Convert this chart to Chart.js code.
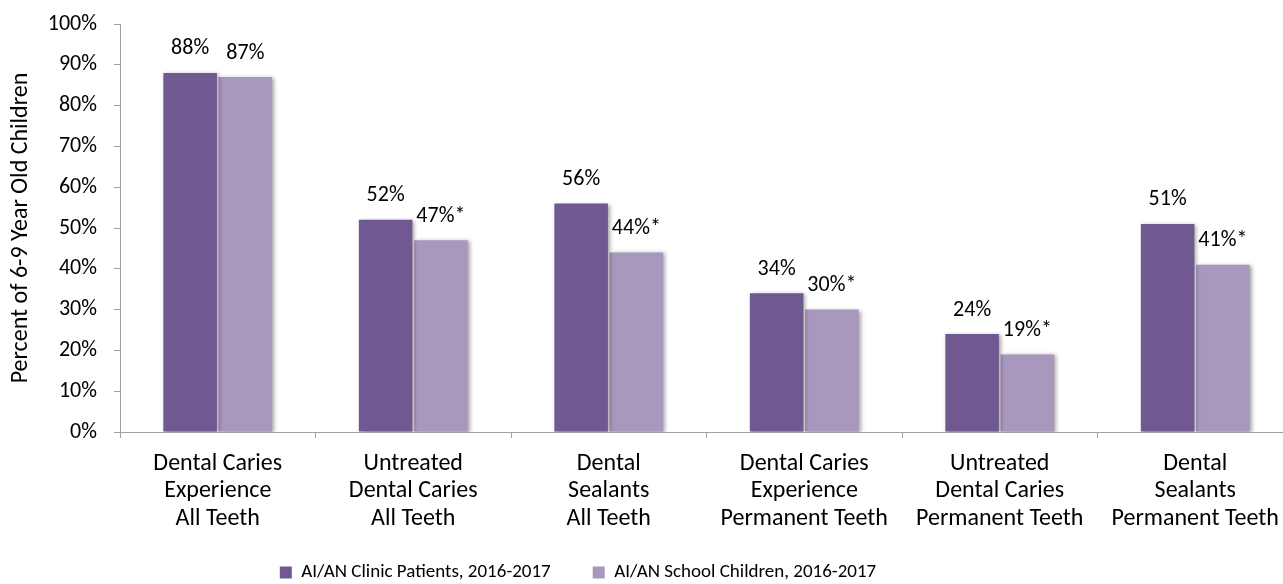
<!DOCTYPE html>
<html>
<head>
<meta charset="utf-8">
<script src="https://cdn.jsdelivr.net/npm/chart.js@4.4.1/dist/chart.umd.min.js"></script>
<style>
    html, body { margin: 0; padding: 0; background: #fff; overflow: hidden; }
    #wrap { width: 1293px; height: 584px; }
</style>
</head>
<body>
<div id="wrap"><canvas id="myChart" width="1293" height="584"></canvas></div>
<script>
const categories = [
    ["Dental Caries", "Experience", "All Teeth"],
    ["Untreated", "Dental Caries", "All Teeth"],
    ["Dental", "Sealants", "All Teeth"],
    ["Dental Caries", "Experience", "Permanent Teeth"],
    ["Untreated", "Dental Caries", "Permanent Teeth"],
    ["Dental", "Sealants", "Permanent Teeth"]
];
const clinicValues = [88, 52, 56, 34, 24, 51];
const schoolValues = [87, 47, 44, 30, 19, 41];
// asterisk marks a significant difference from clinic patients
const schoolSignificant = [false, true, true, true, true, true];
const seriesNames = ["AI/AN Clinic Patients, 2016-2017", "AI/AN School Children, 2016-2017"];
const yTicks = [0, 10, 20, 30, 40, 50, 60, 70, 80, 90, 100];

const FONT = "Carlito, Lato, sans-serif";
const gray = "#a0a0a0";

// soft drop shadow under the bars
const barShadow = {
    id: "barShadow",
    beforeDatasetsDraw(chart) {
        const ctx = chart.ctx;
        ctx.save();
        ctx.shadowColor = "rgba(0,0,0,0.35)";
        ctx.shadowBlur = 4;
        ctx.shadowOffsetX = 2;
        ctx.shadowOffsetY = 1;
    },
    afterDatasetsDraw(chart) {
        chart.ctx.restore();
    }
};

// percent labels above each bar
const valueLabels = {
    id: "valueLabels",
    afterDraw(chart) {
        const ctx = chart.ctx;
        ctx.save();
        ctx.font = "22px " + FONT;
        ctx.fillStyle = "#000";
        ctx.textAlign = "center";
        ctx.textBaseline = "middle";
        chart.data.datasets.forEach((ds, di) => {
            chart.getDatasetMeta(di).data.forEach((bar, i) => {
                let txt = ds.data[i] + "%";
                if (di === 1 && schoolSignificant[i]) txt += "*";
                ctx.fillText(txt, bar.x, bar.y - 24);
            });
        });
        ctx.restore();
    }
};

// legend sits a bit left of centre; x labels need room below the axis box
const layoutTweaks = {
    id: "layoutTweaks",
    afterLayout(chart) {
        chart.legend.left = 0;
        chart.legend.right = 1156;
        chart.scales.x.bottom = chart.scales.x.top + 110;
    }
};

const ctx = document.getElementById("myChart").getContext("2d");
const myChart = new Chart(ctx, {
    type: "bar",
    data: {
        labels: categories,
        datasets: [{
            label: seriesNames[0],
            data: clinicValues,
            backgroundColor: "#705890",
            barPercentage: 0.97,
            categoryPercentage: 0.565
        }, {
            label: seriesNames[1],
            data: schoolValues,
            backgroundColor: "#a898be",
            barPercentage: 0.97,
            categoryPercentage: 0.565
        }]
    },
    options: {
        responsive: false,
        animation: false,
        layout: { padding: { top: 24, left: 0, right: 0, bottom: -8 } },
        plugins: {
            legend: {
                position: "bottom",
                labels: {
                    font: { family: FONT, size: 19 },
                    color: "#000",
                    boxWidth: 12,
                    boxHeight: 12,
                    padding: 42
                }
            },
            tooltip: { enabled: false }
        },
        scales: {
            x: {
                grid: { drawOnChartArea: false, color: gray, tickLength: 6 },
                border: { color: gray, width: 1 },
                ticks: {
                    font: { family: FONT, size: 24, lineHeight: 1.15 },
                    color: "#000",
                    padding: 12,
                    maxRotation: 0,
                    autoSkip: false
                },
                afterFit(scale) { scale.height = 89; }
            },
            y: {
                min: 0,
                max: 100,
                afterBuildTicks(scale) {
                    scale.ticks = yTicks.map(v => ({ value: v }));
                },
                grid: { drawOnChartArea: false, color: gray, tickLength: 6 },
                border: { color: gray, width: 1 },
                ticks: {
                    font: { family: FONT, size: 22 },
                    color: "#000",
                    padding: 17,
                    callback: v => v + "%"
                },
                title: {
                    display: true,
                    text: "Percent of 6-9 Year Old Children",
                    font: { family: FONT, size: 24 },
                    color: "#000",
                    padding: { top: 7, bottom: 0 }
                },
                afterFit(scale) {
                    scale.width = 120;
                    scale.paddingTop = 0;
                    scale.paddingBottom = 0;
                }
            }
        }
    },
    plugins: [barShadow, valueLabels, layoutTweaks]
});
</script>
</body>
</html>
